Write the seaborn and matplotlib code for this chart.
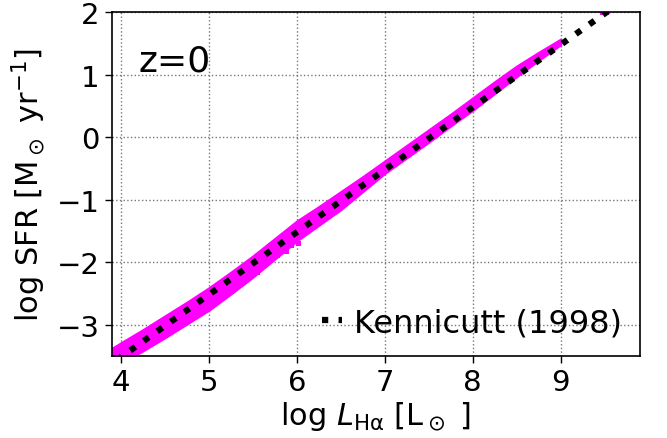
import matplotlib
matplotlib.use("Agg")
import matplotlib.pyplot as plt
import seaborn as sns

# Simulated galaxies: band envelope
band_x = [3.85, 4.0, 4.25, 4.5, 4.75, 5.0, 5.25, 5.5, 5.75, 6.0, 6.25, 6.5, 6.75,
          7.0, 7.25, 7.5, 7.75, 8.0, 8.25, 8.5, 8.75, 9.0]
band_upper = [-3.42, -3.29, -3.08, -2.86, -2.64, -2.41, -2.16, -1.90, -1.62, -1.34,
              -1.11, -0.87, -0.63, -0.38, -0.13, 0.12, 0.37, 0.63, 0.89, 1.14, 1.36, 1.57]
band_lower = [-3.75, -3.62, -3.42, -3.21, -2.99, -2.77, -2.51, -2.24, -1.95, -1.66,
              -1.41, -1.16, -0.87, -0.58, -0.33, -0.08, 0.18, 0.43, 0.70, 0.97, 1.23, 1.48]

# scattered points below the main band
out_x = [5.39, 5.44, 5.55, 5.78, 5.88, 5.94, 6.02, 9.47, 9.52]
out_y = [-2.33, -2.25, -2.17, -1.89, -1.83, -1.73, -1.70, 2.0, 2.0]

# Kennicutt (1998) relation
ken_x = [3.80, 9.90]
ken_y = [-3.72, 2.38]

xticks = [4, 5, 6, 7, 8, 9]
yticks = [-3, -2, -1, 0, 1, 2]

sns.set_style("white")
plt.rcParams['font.family'] = ['DejaVu Sans']
plt.rcParams['mathtext.fontset'] = 'dejavusans'
plt.rcParams['text.color'] = 'black'
plt.rcParams['axes.labelcolor'] = 'black'

fig = plt.figure(figsize=(6.67, 4.39), dpi=100)
ax = fig.add_axes([0.168, 0.187, 0.7915, 0.783])

ax.fill_between(band_x, band_lower, band_upper, color='#ff00ff', lw=1.5,
                edgecolor='#ff00ff', zorder=2)
sns.scatterplot(x=out_x, y=out_y, ax=ax, color='#ff00ff', s=12, marker='s',
                edgecolor='none', zorder=2)
sns.lineplot(x=ken_x, y=ken_y, ax=ax, color='black', lw=4.5, ls=':',
             label='Kennicutt (1998)', zorder=3)

ax.set_xlim(3.9, 9.9)
ax.set_ylim(-3.5, 2.0)
ax.set_xticks(xticks)
ax.set_yticks(yticks)
ax.grid(True, ls=':', color='#777777', lw=1.0, zorder=0)
ax.set_axisbelow(True)
for s in ax.spines.values():
    s.set_color('black')
    s.set_linewidth(1.2)
ax.tick_params(axis='both', direction='out', length=5, width=1, labelsize=21,
               colors='black', bottom=True, left=True, pad=4)

ax.set_xlabel(r'log $L_{\mathrm{H\alpha}}$ [L$_\odot$ ]', fontsize=22, labelpad=2)
ax.set_ylabel(r'log SFR [M$_\odot$ yr$^{-1}$]', fontsize=22, labelpad=6)

ax.text(0.05, 0.86, 'z=0', transform=ax.transAxes, fontsize=26, va='center')

leg = ax.legend(loc='lower right', frameon=False, fontsize=23, handlelength=0.6,
                handletextpad=0.4, borderaxespad=0.15)

fig.savefig('out.png', dpi=100)
